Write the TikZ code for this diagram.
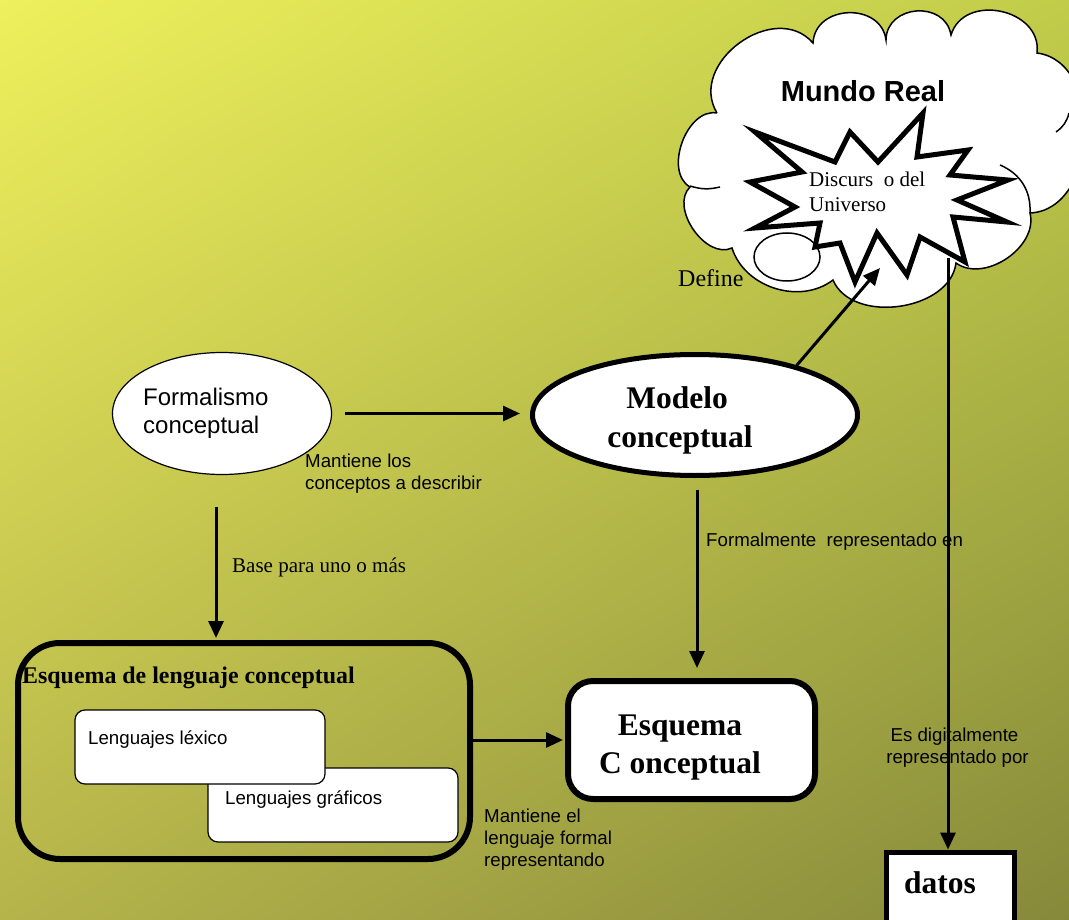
\documentclass[tikz,border=0pt]{standalone}
\usepackage{fontspec}
\setmainfont{Liberation Serif}
\setsansfont{Liberation Sans}
\usetikzlibrary{arrows.meta,shapes.geometric,shadings}
\definecolor{bgUL}{RGB}{238,240,92}
\definecolor{bgUR}{RGB}{193,204,74}
\definecolor{bgLL}{RGB}{181,180,75}
\definecolor{bgLR}{RGB}{134,137,58}
\tikzset{
  arr/.style={line width=3pt,-{Triangle[length=17pt,width=15pt]}},
  thinbox/.style={draw,fill=white,line width=1.2pt,inner sep=0pt},
  thickbox/.style={draw,fill=white,line width=6pt,inner sep=0pt},
  sanslbl/.style={font=\sffamily\fontsize{18.7}{18.7}\selectfont,inner sep=0pt},
  seriflbl/.style={font=\fontsize{21}{21}\selectfont,inner sep=0pt},
  bigserif/.style={font=\bfseries\fontsize{31.5}{31.5}\selectfont,inner sep=0pt},
  cloudst/.style={draw,fill=white,line width=1.5pt},
  inarc/.style={draw,line width=1.5pt}
}
\begin{document}
\begin{tikzpicture}[x=1pt,y=-1pt]
\useasboundingbox (0,0) rectangle (1069,920);
\shade[upper left=bgUL,upper right=bgUR,lower left=bgLL,lower right=bgLR] (0,0) rectangle (1069,920);

% cloud
\draw[cloudst] (717,113) to[bend left=85,looseness=1.25] (813,43) to[bend left=85,looseness=1.35] (886,40)
  to[bend left=85,looseness=1.4] (951,35) to[bend left=85,looseness=1.3] (1037,53) to[bend left=85,looseness=1.1] (1030,213)
  to[bend left=70] (956,263) to[bend left=75] (833,280) to[bend left=55] (732,248)
  to[bend left=80] (690,187) to[bend left=80] (717,113);
\draw[inarc] (1000,165) to[bend left=35] (1030,213);
\draw[inarc] (1056,132) to[bend right=20] (1069,113);
\draw[inarc] (690,186) to[bend right=15] (720,187);
\draw[cloudst] (787,257) ellipse [x radius=33, y radius=24];

% explosion star
\draw[draw,fill=white,line width=5pt,line join=miter,miter limit=10]
  (755,132) -- (835,162) -- (850,132) -- (878,162) -- (923,113) -- (917,157)
  -- (968,150) -- (950,175) -- (1008,180) -- (957,200) -- (1007,222) -- (953,217)
  -- (965,262) -- (920,237) -- (907,275) -- (877,233) -- (855,282) -- (840,243)
  -- (815,247) -- (820,223) -- (755,228) -- (795,207) -- (750,182) -- (802,172) -- cycle;
\coordinate (starbot) at (880,268);
\coordinate (cloudbot) at (948,258);

\node[font=\sffamily\bfseries\fontsize{29}{29}\selectfont,inner sep=0pt,anchor=base] (mundo) at (863,102) {Mundo Real};
\node[seriflbl,anchor=base west] (disc1) at (809,187) {Discurs\ \ o del};
\node[seriflbl,anchor=base west] (disc2) at (809,212) {Universo};
\node[font=\fontsize{24}{24}\selectfont,inner sep=0pt,anchor=base west] (define) at (678,287) {Define};

% Formalismo
\node[thinbox,ellipse,minimum width=219pt,minimum height=122pt] (form) at (222,413.5) {};
\node[font=\sffamily\fontsize{24}{24}\selectfont,inner sep=0pt,anchor=base west] (form1) at (143,405) {Formalismo};
\node[font=\sffamily\fontsize{24}{24}\selectfont,inner sep=0pt,anchor=base west] (form2) at (143,433) {conceptual};

% Modelo
\node[draw,fill=white,ellipse,line width=5pt,inner sep=0pt,minimum width=325pt,minimum height=121pt] (modelo) at (695,415) {};
\node[bigserif,anchor=base] (mod1) at (677,408) {Modelo};
\node[bigserif,anchor=base] (mod2) at (680,447) {conceptual};

\node[sanslbl,anchor=base west] (mant1) at (305,467) {Mantiene los};
\node[sanslbl,anchor=base west] (mant2) at (305,489) {conceptos a describir};

% Esquema de lenguaje conceptual
\node[draw,line width=6pt,rounded corners=42pt,inner sep=0pt,minimum width=452pt,minimum height=216pt] (leng) at (244,751) {};
\node[font=\bfseries\fontsize{23.9}{23.9}\selectfont,inner sep=0pt,anchor=base west] (lengt) at (22,683) {Esquema de lenguaje conceptual};
\node[thinbox,rounded corners=10pt,minimum width=250pt,minimum height=74pt] (graf) at (333,805) {};
\node[thinbox,rounded corners=10pt,minimum width=250pt,minimum height=74pt] (lex) at (200,747) {};
\node[sanslbl,anchor=base west] (lext) at (88,744) {Lenguajes léxico};
\node[sanslbl,anchor=base west] (graft) at (225,804) {Lenguajes gráficos};

% Esquema Conceptual
\node[thickbox,rounded corners=25pt,minimum width=247pt,minimum height=118pt] (esq) at (691.5,740) {};
\node[bigserif,anchor=base] (esq1) at (680,735) {Esquema};
\node[bigserif,anchor=base] (esq2) at (680,773) {C onceptual};

% datos
\node[draw,fill=white,line width=5pt,inner sep=0pt,minimum width=128pt,minimum height=88pt] (datos) at (950.5,896) {};
\node[bigserif,anchor=base] (datost) at (940,893) {datos};

% labels
\node[font=\fontsize{21}{21}\selectfont,inner sep=0pt,anchor=base west] (base) at (232,572) {Base para uno o más};
\node[sanslbl,anchor=base west] (formal) at (706,546) {Formalmente\ \ representado en};
\node[sanslbl,anchor=base west] (mel1) at (484,822) {Mantiene el};
\node[sanslbl,anchor=base west] (mel2) at (484,844) {lenguaje formal};
\node[sanslbl,anchor=base west] (mel3) at (484,866) {representando};
\node[sanslbl,anchor=base] (dig1) at (954.5,741) {Es digitalmente};
\node[sanslbl,anchor=base] (dig2) at (957.5,763) {representado por};

% connectors
\draw[arr,shorten <=13pt,shorten >=10pt] (form.east) -- (form.east -| modelo.west);
\draw[arr,shorten <=32pt,shorten >=2pt] ([xshift=-6pt]form.south) -- ([xshift=-6pt]form.south |- leng.north);
\draw[arr,shorten <=12pt,shorten >=10pt] ([xshift=2pt]modelo.south) -- ([xshift=2pt]modelo.south |- esq.north);
\draw[arr,shorten >=2pt] (leng.east |- esq.west) -- (esq.west);
\draw[arr] (modelo.26) -- (starbot);
\draw[arr] (cloudbot) -- (cloudbot |- datos.north);
\end{tikzpicture}
\end{document}
